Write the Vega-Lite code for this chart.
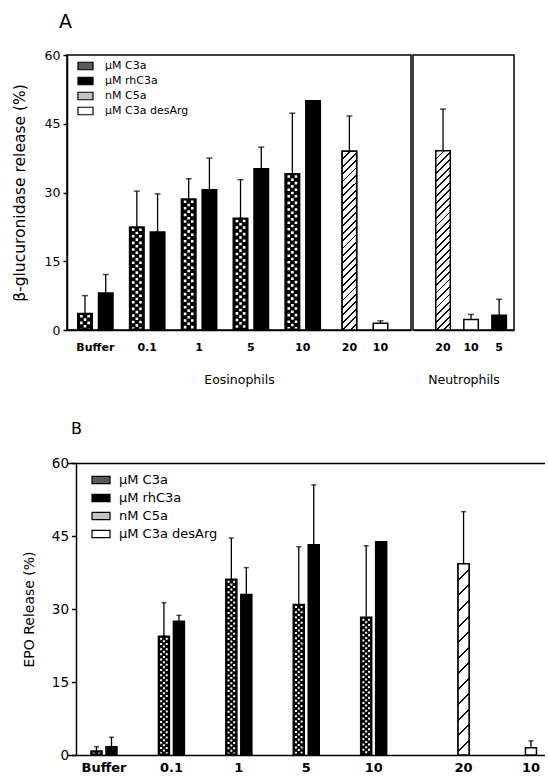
{
  "$schema": "https://vega.github.io/schema/vega-lite/v6.json",
  "padding": {"left": 11, "top": 13, "right": 0, "bottom": 0},
  "datasets": {
    "eos": [
      {"bar": "Buffer#C3a", "series": "μM C3a", "value": 3.6, "upper": 7.5},
      {"bar": "Buffer#rhC3a", "series": "μM rhC3a", "value": 8.1, "upper": 12.1},
      {"bar": "0.1#C3a", "series": "μM C3a", "value": 22.5, "upper": 30.3},
      {"bar": "0.1#rhC3a", "series": "μM rhC3a", "value": 21.4, "upper": 29.7},
      {"bar": "1#C3a", "series": "μM C3a", "value": 28.6, "upper": 33.0},
      {"bar": "1#rhC3a", "series": "μM rhC3a", "value": 30.6, "upper": 37.5},
      {"bar": "5#C3a", "series": "μM C3a", "value": 24.4, "upper": 32.8},
      {"bar": "5#rhC3a", "series": "μM rhC3a", "value": 35.2, "upper": 39.9},
      {"bar": "10#C3a", "series": "μM C3a", "value": 34.1, "upper": 47.3},
      {"bar": "10#rhC3a", "series": "μM rhC3a", "value": 50.0, "upper": null},
      {"bar": "20|C5a", "series": "nM C5a", "value": 39.0, "upper": 46.7},
      {"bar": "10|desArg", "series": "μM C3a desArg", "value": 1.45, "upper": 2.0}
    ],
    "neu": [
      {"bar": "20|C5a", "series": "nM C5a", "value": 39.1, "upper": 48.2},
      {"bar": "10|desArg", "series": "μM C3a desArg", "value": 2.3, "upper": 3.4},
      {"bar": "5|rhC3a", "series": "μM rhC3a", "value": 3.2, "upper": 6.7}
    ],
    "epo": [
      {"bar": "Buffer#C3a", "series": "μM C3a", "value": 0.8, "upper": 1.7},
      {"bar": "Buffer#rhC3a", "series": "μM rhC3a", "value": 1.7, "upper": 3.65},
      {"bar": "0.1#C3a", "series": "μM C3a", "value": 24.4, "upper": 31.3},
      {"bar": "0.1#rhC3a", "series": "μM rhC3a", "value": 27.5, "upper": 28.7},
      {"bar": "1#C3a", "series": "μM C3a", "value": 36.1, "upper": 44.6},
      {"bar": "1#rhC3a", "series": "μM rhC3a", "value": 33.0, "upper": 38.5},
      {"bar": "5#C3a", "series": "μM C3a", "value": 30.9, "upper": 42.8},
      {"bar": "5#rhC3a", "series": "μM rhC3a", "value": 43.2, "upper": 55.5},
      {"bar": "10#C3a", "series": "μM C3a", "value": 28.3, "upper": 43.0},
      {"bar": "10#rhC3a", "series": "μM rhC3a", "value": 43.8, "upper": null},
      {"bar": "20|C5a", "series": "nM C5a", "value": 39.3, "upper": 50.0},
      {"bar": "10|desArg", "series": "μM C3a desArg", "value": 1.5, "upper": 2.9}
    ]
  },
  "concat": [
    {
      "title": {"text": "A", "anchor": "start", "frame": "group", "fontSize": 19, "fontWeight": "normal", "offset": 16, "dx": -8},
      "spacing": 0,
      "resolve": {"legend": {"fill": "independent"}},
      "hconcat": [
        {
          "width": 344,
          "height": 275,
          "data": {"name": "eos"},
          "encoding": {
            "x": {
              "field": "bar", "type": "nominal",
              "scale": {
                "domain": ["_0","_1","Buffer#C3a","_3","Buffer","_5","Buffer#rhC3a","_7","_8","_9","_10","_11","0.1#C3a","_13","0.1","_15","0.1#rhC3a","_17","_18","_19","_20","_21","1#C3a","_23","1","_25","1#rhC3a","_27","_28","_29","_30","_31","5#C3a","_33","5","_35","5#rhC3a","_37","_38","_39","_40","_41","10#C3a","_43","10","_45","10#rhC3a","_47","_48","_49","_50","_51","_52","20|C5a","_54","_55","_56","_57","_58","10|desArg","_60","_61","_62","_63","_64"],
                "paddingInner": 0, "paddingOuter": 0.679, "align": 0.716, "round": false
              },
              "axis": {
                "title": "Eosinophils",
                "labelExpr": "indexof(datum.value,'_')==0 || indexof(datum.value,'#')>=0 ? '' : split(datum.value,'|')[0]",
                "labelAngle": 0, "ticks": false, "labelOverlap": false, "labelBound": false, "labelFlush": false,
                "labelPadding": 11, "labelFontSize": 11, "labelFontWeight": "bold",
                "titlePadding": 21, "titleFontSize": 12.5
              }
            },
            "y": {
              "field": "value", "type": "quantitative",
              "scale": {"domain": [0, 60], "nice": false},
              "axis": {
                "title": "β-glucuronidase release (%)", "values": [0, 15, 30, 45, 60],
                "tickSize": 4, "tickWidth": 1.5, "labelPadding": 3, "labelFontSize": 12.5,
                "titleFontSize": 15.5, "titlePadding": 17
              }
            }
          },
          "layer": [
            {
              "mark": {"type": "bar", "width": 14.5, "stroke": "black", "strokeWidth": 1.5},
              "encoding": {
                "fill": {
                  "field": "series", "type": "nominal",
                  "condition": {"test": "datum.series === 'μM C3a'", "value": "#000000"},
                  "scale": {"domain": ["μM C3a", "μM rhC3a", "nM C5a", "μM C3a desArg"], "range": ["#5a5a5a", "#000000", "#c4c4c4", "#ffffff"]},
                  "legend": {
                    "orient": "none", "legendX": 10, "legendY": 2.5, "title": null,
                    "symbolType": "M-1,-0.5H1V0.5H-1Z", "symbolSize": 225,
                    "symbolStrokeColor": "black", "symbolStrokeWidth": 1.2,
                    "labelFontSize": 11, "labelOffset": 11, "rowPadding": 0, "padding": 0, "labelColor": "black"
                  }
                }
              }
            },
            {
              "transform": [{"filter": "datum.series === 'μM C3a'"}],
              "mark": {"type": "rule", "color": "white", "strokeWidth": 2.6, "strokeDash": [2.6, 4], "xOffset": -3.6, "yOffset": 1.5, "y2Offset": -1.5},
              "encoding": {"y2": {"datum": 0}}
            },
            {
              "transform": [{"filter": "datum.series === 'μM C3a'"}],
              "mark": {"type": "rule", "color": "white", "strokeWidth": 2.6, "strokeDash": [2.6, 4], "strokeDashOffset": 3.3, "yOffset": 1.5, "y2Offset": -1.5},
              "encoding": {"y2": {"datum": 0}}
            },
            {
              "transform": [{"filter": "datum.series === 'μM C3a'"}],
              "mark": {"type": "rule", "color": "white", "strokeWidth": 2.6, "strokeDash": [2.6, 4], "xOffset": 3.6, "yOffset": 1.5, "y2Offset": -1.5},
              "encoding": {"y2": {"datum": 0}}
            },
            {
              "transform": [{"filter": "datum.series === 'nM C5a'"}],
              "mark": {
                "type": "bar", "width": 14.5, "stroke": "black", "strokeWidth": 1.5,
                "fill": {"gradient": "linear", "x1": 0, "y1": 0, "x2": 0.087, "y2": 1.074, "stops": [
                  {"offset": 0, "color": "#000000"}, {"offset": 0.0096, "color": "#000000"}, {"offset": 0.0096, "color": "#ffffff"}, {"offset": 0.0385, "color": "#ffffff"},
                  {"offset": 0.0385, "color": "#000000"}, {"offset": 0.0481, "color": "#000000"}, {"offset": 0.0481, "color": "#ffffff"}, {"offset": 0.0769, "color": "#ffffff"},
                  {"offset": 0.0769, "color": "#000000"}, {"offset": 0.0865, "color": "#000000"}, {"offset": 0.0865, "color": "#ffffff"}, {"offset": 0.1154, "color": "#ffffff"},
                  {"offset": 0.1154, "color": "#000000"}, {"offset": 0.1250, "color": "#000000"}, {"offset": 0.1250, "color": "#ffffff"}, {"offset": 0.1538, "color": "#ffffff"},
                  {"offset": 0.1538, "color": "#000000"}, {"offset": 0.1634, "color": "#000000"}, {"offset": 0.1634, "color": "#ffffff"}, {"offset": 0.1923, "color": "#ffffff"},
                  {"offset": 0.1923, "color": "#000000"}, {"offset": 0.2019, "color": "#000000"}, {"offset": 0.2019, "color": "#ffffff"}, {"offset": 0.2308, "color": "#ffffff"},
                  {"offset": 0.2308, "color": "#000000"}, {"offset": 0.2404, "color": "#000000"}, {"offset": 0.2404, "color": "#ffffff"}, {"offset": 0.2692, "color": "#ffffff"},
                  {"offset": 0.2692, "color": "#000000"}, {"offset": 0.2788, "color": "#000000"}, {"offset": 0.2788, "color": "#ffffff"}, {"offset": 0.3077, "color": "#ffffff"},
                  {"offset": 0.3077, "color": "#000000"}, {"offset": 0.3173, "color": "#000000"}, {"offset": 0.3173, "color": "#ffffff"}, {"offset": 0.3462, "color": "#ffffff"},
                  {"offset": 0.3462, "color": "#000000"}, {"offset": 0.3558, "color": "#000000"}, {"offset": 0.3558, "color": "#ffffff"}, {"offset": 0.3846, "color": "#ffffff"},
                  {"offset": 0.3846, "color": "#000000"}, {"offset": 0.3942, "color": "#000000"}, {"offset": 0.3942, "color": "#ffffff"}, {"offset": 0.4231, "color": "#ffffff"},
                  {"offset": 0.4231, "color": "#000000"}, {"offset": 0.4327, "color": "#000000"}, {"offset": 0.4327, "color": "#ffffff"}, {"offset": 0.4615, "color": "#ffffff"},
                  {"offset": 0.4615, "color": "#000000"}, {"offset": 0.4711, "color": "#000000"}, {"offset": 0.4711, "color": "#ffffff"}, {"offset": 0.5000, "color": "#ffffff"},
                  {"offset": 0.5000, "color": "#000000"}, {"offset": 0.5096, "color": "#000000"}, {"offset": 0.5096, "color": "#ffffff"}, {"offset": 0.5385, "color": "#ffffff"},
                  {"offset": 0.5385, "color": "#000000"}, {"offset": 0.5481, "color": "#000000"}, {"offset": 0.5481, "color": "#ffffff"}, {"offset": 0.5769, "color": "#ffffff"},
                  {"offset": 0.5769, "color": "#000000"}, {"offset": 0.5865, "color": "#000000"}, {"offset": 0.5865, "color": "#ffffff"}, {"offset": 0.6154, "color": "#ffffff"},
                  {"offset": 0.6154, "color": "#000000"}, {"offset": 0.6250, "color": "#000000"}, {"offset": 0.6250, "color": "#ffffff"}, {"offset": 0.6538, "color": "#ffffff"},
                  {"offset": 0.6538, "color": "#000000"}, {"offset": 0.6634, "color": "#000000"}, {"offset": 0.6634, "color": "#ffffff"}, {"offset": 0.6923, "color": "#ffffff"},
                  {"offset": 0.6923, "color": "#000000"}, {"offset": 0.7019, "color": "#000000"}, {"offset": 0.7019, "color": "#ffffff"}, {"offset": 0.7308, "color": "#ffffff"},
                  {"offset": 0.7308, "color": "#000000"}, {"offset": 0.7404, "color": "#000000"}, {"offset": 0.7404, "color": "#ffffff"}, {"offset": 0.7692, "color": "#ffffff"},
                  {"offset": 0.7692, "color": "#000000"}, {"offset": 0.7788, "color": "#000000"}, {"offset": 0.7788, "color": "#ffffff"}, {"offset": 0.8077, "color": "#ffffff"},
                  {"offset": 0.8077, "color": "#000000"}, {"offset": 0.8173, "color": "#000000"}, {"offset": 0.8173, "color": "#ffffff"}, {"offset": 0.8462, "color": "#ffffff"},
                  {"offset": 0.8462, "color": "#000000"}, {"offset": 0.8558, "color": "#000000"}, {"offset": 0.8558, "color": "#ffffff"}, {"offset": 0.8846, "color": "#ffffff"},
                  {"offset": 0.8846, "color": "#000000"}, {"offset": 0.8942, "color": "#000000"}, {"offset": 0.8942, "color": "#ffffff"}, {"offset": 0.9231, "color": "#ffffff"},
                  {"offset": 0.9231, "color": "#000000"}, {"offset": 0.9327, "color": "#000000"}, {"offset": 0.9327, "color": "#ffffff"}, {"offset": 0.9615, "color": "#ffffff"},
                  {"offset": 0.9615, "color": "#000000"}, {"offset": 0.9711, "color": "#000000"}, {"offset": 0.9711, "color": "#ffffff"}, {"offset": 1, "color": "#ffffff"}
                ]}
              }
            },
            {
              "transform": [{"filter": "datum.upper != null"}],
              "mark": {"type": "rule", "strokeWidth": 1.3, "color": "black"},
              "encoding": {"y2": {"field": "upper"}}
            },
            {
              "transform": [{"filter": "datum.upper != null"}],
              "mark": {"type": "tick", "size": 6, "thickness": 1.5, "color": "black"},
              "encoding": {"y": {"field": "upper", "type": "quantitative"}}
            }
          ]
        },
        {
          "width": 101,
          "height": 275,
          "data": {"name": "neu"},
          "encoding": {
            "x": {
              "field": "bar", "type": "nominal",
              "scale": {"domain": ["20|C5a", "10|desArg", "5|rhC3a"], "paddingInner": 0, "paddingOuter": 0.3, "align": 0.95, "round": false},
              "axis": {
                "title": "Neutrophils",
                "labelExpr": "split(datum.value,'|')[0]",
                "labelAngle": 0, "ticks": false, "labelOverlap": false, "labelBound": false, "labelFlush": false,
                "labelPadding": 11, "labelFontSize": 11, "labelFontWeight": "bold",
                "titlePadding": 21, "titleFontSize": 12.5
              }
            },
            "y": {"field": "value", "type": "quantitative", "scale": {"domain": [0, 60], "nice": false}, "axis": null}
          },
          "layer": [
            {
              "mark": {"type": "bar", "width": 14.5, "stroke": "black", "strokeWidth": 1.5},
              "encoding": {
                "fill": {
                  "field": "series", "type": "nominal",
                  "scale": {"domain": ["μM C3a", "μM rhC3a", "nM C5a", "μM C3a desArg"], "range": ["#5a5a5a", "#000000", "#c4c4c4", "#ffffff"]},
                  "legend": null
                }
              }
            },
            {
              "transform": [{"filter": "datum.series === 'nM C5a'"}],
              "mark": {
                "type": "bar", "width": 14.5, "stroke": "black", "strokeWidth": 1.5,
                "fill": {"gradient": "linear", "x1": 0, "y1": 0, "x2": 0.087, "y2": 1.074, "stops": [
                  {"offset": 0, "color": "#000000"}, {"offset": 0.0096, "color": "#000000"}, {"offset": 0.0096, "color": "#ffffff"}, {"offset": 0.0385, "color": "#ffffff"},
                  {"offset": 0.0385, "color": "#000000"}, {"offset": 0.0481, "color": "#000000"}, {"offset": 0.0481, "color": "#ffffff"}, {"offset": 0.0769, "color": "#ffffff"},
                  {"offset": 0.0769, "color": "#000000"}, {"offset": 0.0865, "color": "#000000"}, {"offset": 0.0865, "color": "#ffffff"}, {"offset": 0.1154, "color": "#ffffff"},
                  {"offset": 0.1154, "color": "#000000"}, {"offset": 0.1250, "color": "#000000"}, {"offset": 0.1250, "color": "#ffffff"}, {"offset": 0.1538, "color": "#ffffff"},
                  {"offset": 0.1538, "color": "#000000"}, {"offset": 0.1634, "color": "#000000"}, {"offset": 0.1634, "color": "#ffffff"}, {"offset": 0.1923, "color": "#ffffff"},
                  {"offset": 0.1923, "color": "#000000"}, {"offset": 0.2019, "color": "#000000"}, {"offset": 0.2019, "color": "#ffffff"}, {"offset": 0.2308, "color": "#ffffff"},
                  {"offset": 0.2308, "color": "#000000"}, {"offset": 0.2404, "color": "#000000"}, {"offset": 0.2404, "color": "#ffffff"}, {"offset": 0.2692, "color": "#ffffff"},
                  {"offset": 0.2692, "color": "#000000"}, {"offset": 0.2788, "color": "#000000"}, {"offset": 0.2788, "color": "#ffffff"}, {"offset": 0.3077, "color": "#ffffff"},
                  {"offset": 0.3077, "color": "#000000"}, {"offset": 0.3173, "color": "#000000"}, {"offset": 0.3173, "color": "#ffffff"}, {"offset": 0.3462, "color": "#ffffff"},
                  {"offset": 0.3462, "color": "#000000"}, {"offset": 0.3558, "color": "#000000"}, {"offset": 0.3558, "color": "#ffffff"}, {"offset": 0.3846, "color": "#ffffff"},
                  {"offset": 0.3846, "color": "#000000"}, {"offset": 0.3942, "color": "#000000"}, {"offset": 0.3942, "color": "#ffffff"}, {"offset": 0.4231, "color": "#ffffff"},
                  {"offset": 0.4231, "color": "#000000"}, {"offset": 0.4327, "color": "#000000"}, {"offset": 0.4327, "color": "#ffffff"}, {"offset": 0.4615, "color": "#ffffff"},
                  {"offset": 0.4615, "color": "#000000"}, {"offset": 0.4711, "color": "#000000"}, {"offset": 0.4711, "color": "#ffffff"}, {"offset": 0.5000, "color": "#ffffff"},
                  {"offset": 0.5000, "color": "#000000"}, {"offset": 0.5096, "color": "#000000"}, {"offset": 0.5096, "color": "#ffffff"}, {"offset": 0.5385, "color": "#ffffff"},
                  {"offset": 0.5385, "color": "#000000"}, {"offset": 0.5481, "color": "#000000"}, {"offset": 0.5481, "color": "#ffffff"}, {"offset": 0.5769, "color": "#ffffff"},
                  {"offset": 0.5769, "color": "#000000"}, {"offset": 0.5865, "color": "#000000"}, {"offset": 0.5865, "color": "#ffffff"}, {"offset": 0.6154, "color": "#ffffff"},
                  {"offset": 0.6154, "color": "#000000"}, {"offset": 0.6250, "color": "#000000"}, {"offset": 0.6250, "color": "#ffffff"}, {"offset": 0.6538, "color": "#ffffff"},
                  {"offset": 0.6538, "color": "#000000"}, {"offset": 0.6634, "color": "#000000"}, {"offset": 0.6634, "color": "#ffffff"}, {"offset": 0.6923, "color": "#ffffff"},
                  {"offset": 0.6923, "color": "#000000"}, {"offset": 0.7019, "color": "#000000"}, {"offset": 0.7019, "color": "#ffffff"}, {"offset": 0.7308, "color": "#ffffff"},
                  {"offset": 0.7308, "color": "#000000"}, {"offset": 0.7404, "color": "#000000"}, {"offset": 0.7404, "color": "#ffffff"}, {"offset": 0.7692, "color": "#ffffff"},
                  {"offset": 0.7692, "color": "#000000"}, {"offset": 0.7788, "color": "#000000"}, {"offset": 0.7788, "color": "#ffffff"}, {"offset": 0.8077, "color": "#ffffff"},
                  {"offset": 0.8077, "color": "#000000"}, {"offset": 0.8173, "color": "#000000"}, {"offset": 0.8173, "color": "#ffffff"}, {"offset": 0.8462, "color": "#ffffff"},
                  {"offset": 0.8462, "color": "#000000"}, {"offset": 0.8558, "color": "#000000"}, {"offset": 0.8558, "color": "#ffffff"}, {"offset": 0.8846, "color": "#ffffff"},
                  {"offset": 0.8846, "color": "#000000"}, {"offset": 0.8942, "color": "#000000"}, {"offset": 0.8942, "color": "#ffffff"}, {"offset": 0.9231, "color": "#ffffff"},
                  {"offset": 0.9231, "color": "#000000"}, {"offset": 0.9327, "color": "#000000"}, {"offset": 0.9327, "color": "#ffffff"}, {"offset": 0.9615, "color": "#ffffff"},
                  {"offset": 0.9615, "color": "#000000"}, {"offset": 0.9711, "color": "#000000"}, {"offset": 0.9711, "color": "#ffffff"}, {"offset": 1, "color": "#ffffff"}
                ]}
              }
            },
            {
              "transform": [{"filter": "datum.upper != null"}],
              "mark": {"type": "rule", "strokeWidth": 1.3, "color": "black"},
              "encoding": {"y2": {"field": "upper"}}
            },
            {
              "transform": [{"filter": "datum.upper != null"}],
              "mark": {"type": "tick", "size": 6, "thickness": 1.5, "color": "black"},
              "encoding": {"y": {"field": "upper", "type": "quantitative"}}
            }
          ]
        }
      ]
    },
    {
      "title": {"text": "B", "anchor": "start", "frame": "group", "fontSize": 16, "fontWeight": "normal", "offset": 19, "dx": 4},
      "width": 478,
      "height": 292,
      "view": {"stroke": null},
      "data": {"name": "epo"},
      "encoding": {
        "x": {
          "field": "bar", "type": "nominal",
          "scale": {
            "domain": ["_0","_1","Buffer#C3a","Buffer","Buffer#rhC3a","_5","_6","_7","_8","_9","_10","0.1#C3a","0.1","0.1#rhC3a","_14","_15","_16","_17","_18","_19","1#C3a","1","1#rhC3a","_23","_24","_25","_26","_27","_28","5#C3a","5","5#rhC3a","_32","_33","_34","_35","_36","_37","10#C3a","10","10#rhC3a","_41","_42","_43","_44","_45","_46","_47","_48","_49","_50","20|C5a","_52","_53","_54","_55","_56","_57","_58","_59","10|desArg","_61"],
            "paddingInner": 0, "paddingOuter": 0.905, "align": 0.795, "round": false
          },
          "axis": {
            "title": null,
            "labelExpr": "indexof(datum.value,'_')==0 || indexof(datum.value,'#')>=0 ? '' : split(datum.value,'|')[0]",
            "labelAngle": 0, "ticks": false, "labelOverlap": false, "labelBound": false, "labelFlush": false,
            "labelPadding": 6, "labelFontSize": 13, "labelFontWeight": "bold"
          }
        },
        "y": {
          "field": "value", "type": "quantitative",
          "scale": {"domain": [0, 60], "nice": false},
          "axis": {
            "title": "EPO Release (%)", "values": [0, 15, 30, 45, 60], "offset": -9,
            "tickSize": 4.5, "tickWidth": 1.5, "labelPadding": 3, "labelFontSize": 13.5,
            "titleFontSize": 14, "titlePadding": 15,
            "grid": true, "gridColor": "black", "gridWidth": 1.5,
            "gridOpacity": {"condition": {"test": "datum.value === 60", "value": 1}, "value": 0}
          }
        }
      },
      "layer": [
        {
          "mark": {"type": "bar", "width": 11, "stroke": "black", "strokeWidth": 1.5},
          "encoding": {
            "fill": {
              "field": "series", "type": "nominal",
              "condition": {"test": "datum.series === 'μM C3a'", "value": "#000000"},
              "scale": {"domain": ["μM C3a", "μM rhC3a", "nM C5a", "μM C3a desArg"], "range": ["#5a5a5a", "#000000", "#c4c4c4", "#ffffff"]},
              "legend": {
                "orient": "none", "legendX": 24, "legendY": 7, "title": null,
                "symbolType": "M-1,-0.4H1V0.4H-1Z", "symbolSize": 324,
                "symbolStrokeColor": "black", "symbolStrokeWidth": 1.2,
                "labelFontSize": 13, "labelOffset": 8, "rowPadding": 1, "padding": 0, "labelColor": "black"
              }
            }
          }
        },
        {
          "transform": [{"filter": "datum.series === 'μM C3a'"}],
          "mark": {"type": "rule", "color": "white", "strokeWidth": 2, "strokeDash": [2, 3.2], "xOffset": -2.8, "yOffset": 1.5, "y2Offset": -1.5},
          "encoding": {"y2": {"datum": 0}}
        },
        {
          "transform": [{"filter": "datum.series === 'μM C3a'"}],
          "mark": {"type": "rule", "color": "white", "strokeWidth": 2, "strokeDash": [2, 3.2], "strokeDashOffset": 2.6, "yOffset": 1.5, "y2Offset": -1.5},
          "encoding": {"y2": {"datum": 0}}
        },
        {
          "transform": [{"filter": "datum.series === 'μM C3a'"}],
          "mark": {"type": "rule", "color": "white", "strokeWidth": 2, "strokeDash": [2, 3.2], "xOffset": 2.8, "yOffset": 1.5, "y2Offset": -1.5},
          "encoding": {"y2": {"datum": 0}}
        },
        {
          "transform": [{"filter": "datum.series === 'nM C5a'"}],
          "mark": {
            "type": "bar", "width": 11, "stroke": "black", "strokeWidth": 1.5,
            "fill": {"gradient": "linear", "x1": 0, "y1": 0, "x2": 0.0605, "y2": 1.0539, "stops": [
              {"offset": 0, "color": "#000000"}, {"offset": 0.0100, "color": "#000000"}, {"offset": 0.0100, "color": "#ffffff"}, {"offset": 0.0769, "color": "#ffffff"},
              {"offset": 0.0769, "color": "#000000"}, {"offset": 0.0869, "color": "#000000"}, {"offset": 0.0869, "color": "#ffffff"}, {"offset": 0.1538, "color": "#ffffff"},
              {"offset": 0.1538, "color": "#000000"}, {"offset": 0.1638, "color": "#000000"}, {"offset": 0.1638, "color": "#ffffff"}, {"offset": 0.2308, "color": "#ffffff"},
              {"offset": 0.2308, "color": "#000000"}, {"offset": 0.2408, "color": "#000000"}, {"offset": 0.2408, "color": "#ffffff"}, {"offset": 0.3077, "color": "#ffffff"},
              {"offset": 0.3077, "color": "#000000"}, {"offset": 0.3177, "color": "#000000"}, {"offset": 0.3177, "color": "#ffffff"}, {"offset": 0.3846, "color": "#ffffff"},
              {"offset": 0.3846, "color": "#000000"}, {"offset": 0.3946, "color": "#000000"}, {"offset": 0.3946, "color": "#ffffff"}, {"offset": 0.4615, "color": "#ffffff"},
              {"offset": 0.4615, "color": "#000000"}, {"offset": 0.4715, "color": "#000000"}, {"offset": 0.4715, "color": "#ffffff"}, {"offset": 0.5385, "color": "#ffffff"},
              {"offset": 0.5385, "color": "#000000"}, {"offset": 0.5485, "color": "#000000"}, {"offset": 0.5485, "color": "#ffffff"}, {"offset": 0.6154, "color": "#ffffff"},
              {"offset": 0.6154, "color": "#000000"}, {"offset": 0.6254, "color": "#000000"}, {"offset": 0.6254, "color": "#ffffff"}, {"offset": 0.6923, "color": "#ffffff"},
              {"offset": 0.6923, "color": "#000000"}, {"offset": 0.7023, "color": "#000000"}, {"offset": 0.7023, "color": "#ffffff"}, {"offset": 0.7692, "color": "#ffffff"},
              {"offset": 0.7692, "color": "#000000"}, {"offset": 0.7792, "color": "#000000"}, {"offset": 0.7792, "color": "#ffffff"}, {"offset": 0.8462, "color": "#ffffff"},
              {"offset": 0.8462, "color": "#000000"}, {"offset": 0.8562, "color": "#000000"}, {"offset": 0.8562, "color": "#ffffff"}, {"offset": 0.9231, "color": "#ffffff"},
              {"offset": 0.9231, "color": "#000000"}, {"offset": 0.9331, "color": "#000000"}, {"offset": 0.9331, "color": "#ffffff"}, {"offset": 1, "color": "#ffffff"}
            ]}
          }
        },
        {
          "transform": [{"filter": "datum.upper != null"}],
          "mark": {"type": "rule", "strokeWidth": 1.3, "color": "black"},
          "encoding": {"y2": {"field": "upper"}}
        },
        {
          "transform": [{"filter": "datum.upper != null"}],
          "mark": {"type": "tick", "size": 5, "thickness": 1.5, "color": "black"},
          "encoding": {"y": {"field": "upper", "type": "quantitative"}}
        }
      ]
    }
  ],
  "columns": 1,
  "spacing": 34,
  "resolve": {"legend": {"fill": "independent"}},
  "config": {
    "font": "DejaVu Sans",
    "view": {"stroke": "black", "strokeWidth": 1.5},
    "axis": {
      "domainColor": "black", "domainWidth": 1.5, "labelColor": "black", "titleColor": "black",
      "tickColor": "black", "grid": false, "titleFontWeight": "normal", "labelFont": "DejaVu Sans", "titleFont": "DejaVu Sans"
    },
    "legend": {"labelFont": "DejaVu Sans"},
    "title": {"font": "DejaVu Sans", "color": "black"}
  }
}
